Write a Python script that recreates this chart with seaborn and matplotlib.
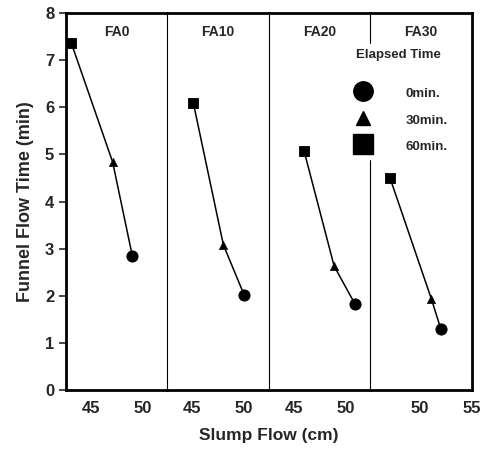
import numpy as np
import pandas as pd
import seaborn as sns
import matplotlib.pyplot as plt
from matplotlib.lines import Line2D

sns.set_style("white")
plt.rcParams['font.family'] = ['Liberation Sans', 'DejaVu Sans']
plt.rcParams['font.weight'] = 'bold'

# data
mixes = ["FA0", "FA10", "FA20", "FA30"]
times = ["0min.", "30min.", "60min."]
slump_0 = [49.0, 50.0, 50.9, 52.0]
slump_30 = [47.1, 48.0, 48.9, 51.1]
slump_60 = [43.1, 45.1, 46.0, 47.1]
funnel_0 = [2.85, 2.02, 1.83, 1.30]
funnel_30 = [4.84, 3.08, 2.63, 1.93]
funnel_60 = [7.37, 6.09, 5.07, 4.50]

rows = []
for i, mix in enumerate(mixes):
    for t, sx, fy in zip(times, [slump_0, slump_30, slump_60], [funnel_0, funnel_30, funnel_60]):
        rows.append({"mix": mix, "time": t, "slump": sx[i], "funnel": fy[i]})
df = pd.DataFrame(rows)

markers = {"0min.": "o", "30min.": "^", "60min.": "s"}
sizes = {"0min.": 65, "30min.": 35, "60min.": 60}

fig, axes = plt.subplots(1, 4, figsize=(4.93, 4.54), dpi=100, sharey=True)
fig.subplots_adjust(left=0.134, right=0.957, bottom=0.141, top=0.971, wspace=0)

xlims = [(42.6, 52.4), (42.6, 52.4), (42.6, 52.4), (45.2, 55.0)]
for i, (ax, mix) in enumerate(zip(axes, mixes)):
    d = df[df["mix"] == mix]
    sns.lineplot(data=d, x="slump", y="funnel", sort=False, color="black",
                 linewidth=1.1, ax=ax, legend=False)
    for t in times:
        dd = d[d["time"] == t]
        sns.scatterplot(data=dd, x="slump", y="funnel", marker=markers[t],
                        s=sizes[t], color="black", edgecolor="black", ax=ax,
                        legend=False, zorder=3)
    ax.set_xlim(*xlims[i])
    ax.set_ylim(0, 8)
    ax.set_xlabel("")
    ax.set_ylabel("")
    if i < 3:
        ax.set_xticks([45, 47.5, 50])
        ax.set_xticklabels(["45", "", "50"])
    else:
        ax.set_xticks([47.5, 50, 52.5, 55])
        ax.set_xticklabels(["", "50", "", "55"])
    ax.tick_params(axis="x", direction="in", length=4, width=1.2, labelsize=12, pad=8)
    for s in ax.spines.values():
        s.set_color("black")
        s.set_linewidth(2.0)
    if i > 0:
        ax.spines["left"].set_linewidth(0.8)
        ax.tick_params(axis="y", left=False)
    if i < 3:
        ax.spines["right"].set_visible(False)
    ax.text(0.5, 0.95, mix, transform=ax.transAxes, ha="center", va="center",
            fontsize=10, fontweight="bold")

axes[0].set_yticks(range(0, 9))
axes[0].tick_params(axis="y", direction="out", length=5, width=1.2, labelsize=12, left=True)
for ax in axes:
    for lab in ax.get_xticklabels() + ax.get_yticklabels():
        lab.set_fontweight("bold")

axes[0].set_ylabel("Funnel Flow Time (min)", fontsize=13, fontweight="bold", labelpad=8)
fig.text(0.545, 0.025, "Slump Flow (cm)", ha="center", va="bottom", fontsize=12.5, fontweight="bold")

handles = [Line2D([], [], linestyle="none", marker=markers[t], color="black",
                  markersize=ms) for t, ms in zip(times, [14, 10, 14])]
leg = fig.legend(handles, times, title="Elapsed Time\n", loc="upper left",
                 bbox_to_anchor=(0.686, 0.918), frameon=True, facecolor="white",
                 edgecolor="white", framealpha=1.0, fontsize=9.5, title_fontsize=9.5,
                 markerfirst=True, handletextpad=2.2, labelspacing=0.75,
                 handleheight=1.55, handlelength=2.0, borderpad=0.4,
                 fancybox=False)
leg.set_zorder(10)
leg.get_title().set_fontweight("bold")
for t in leg.get_texts():
    t.set_fontweight("bold")

fig.savefig("out.png", dpi=100)
